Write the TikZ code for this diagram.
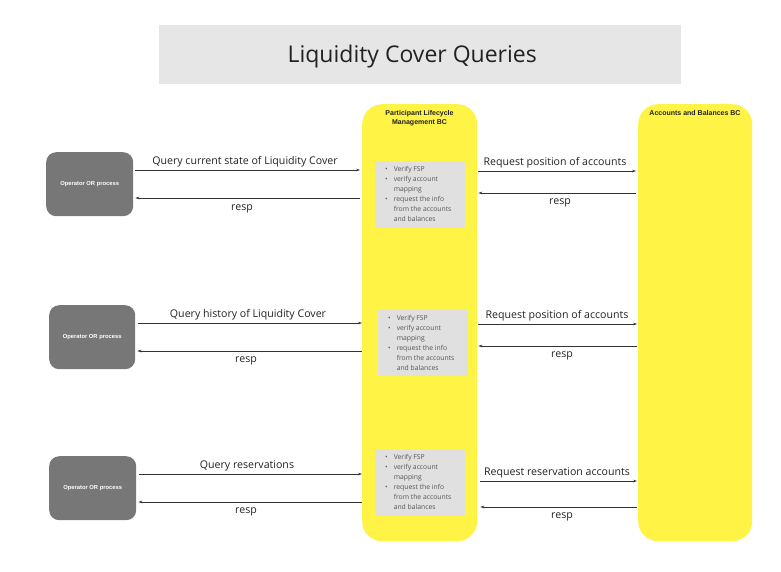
\documentclass[tikz,border=0pt]{standalone}
\usepackage{fontspec}
\setmainfont{Open Sans}
\newfontfamily\arialb{Liberation Sans}
\usetikzlibrary{arrows.meta}
\definecolor{ylw}{HTML}{FFF345}
\definecolor{ttlgray}{HTML}{E6E6E6}
\definecolor{boxgray}{HTML}{E0E0E0}
\definecolor{opgray}{HTML}{777777}
\definecolor{txt}{HTML}{222222}
\definecolor{bul}{HTML}{555555}
\definecolor{ln}{HTML}{333333}
\newcommand{\bulletlist}{%
\fontsize{6.8}{10}\selectfont\color{bul}%
\begin{tabular}{@{}l@{\hspace{6pt}}l@{}}
\textbullet & Verify FSP\\
\textbullet & verify account\\
 & mapping\\
\textbullet & request the info\\
 & from the accounts\\
 & and balances
\end{tabular}}
\tikzset{
  colbox/.style={fill=ylw, rounded corners=20pt, minimum width=115pt, minimum height=437pt, anchor=north west, inner sep=0pt},
  graybox/.style={fill=boxgray, minimum width=90pt, minimum height=67pt, anchor=north west, inner sep=0pt},
  opbox/.style={fill=opgray, rounded corners=10pt, minimum width=87pt, minimum height=64pt, anchor=north west, inner sep=0pt, text=white, font=\arialb\bfseries\fontsize{5.8}{7}\selectfont},
  arr/.style={draw=ln, line width=0.6pt, -{Stealth[length=4pt,width=2.6pt]}},
  lbl/.style={text=txt, font=\fontsize{10.6}{12}\selectfont, inner sep=0pt},
  coltitle/.style={text=txt, font=\arialb\bfseries\fontsize{7}{8.5}\selectfont, align=center, inner sep=0pt}
}
\begin{document}
\begin{tikzpicture}[x=1pt,y=-1pt]
\useasboundingbox (0,0) rectangle (781,571);
% title
\node[fill=ttlgray, minimum width=522pt, minimum height=59pt, anchor=north west, inner sep=0pt] (title) at (159,25) {};
\node[text=txt, font=\fontsize{23}{27}\selectfont, inner sep=0pt] (titletxt) at ([xshift=-8pt,yshift=-1.5pt]title.center) {Liquidity Cover Queries};
% columns
\node[colbox] (col1) at (362,104) {};
\node[colbox, minimum width=114pt] (col2) at (638,104) {};
\node[coltitle] (col1t) at (419.5,118) {Participant Lifecycle\\Management BC};
\node[coltitle] (col2t) at (695,113) {Accounts and Balances BC};
% gray boxes
\node[graybox] (g1) at (375,161) {};
\node[graybox, minimum height=66pt] (g2) at (378,310) {};
\node[graybox] (g3) at (375,449) {};
\node[anchor=west, inner sep=0pt] (g1t) at ([xshift=10pt]g1.west) {\bulletlist};
\node[anchor=west, inner sep=0pt] (g2t) at ([xshift=10pt]g2.west) {\bulletlist};
\node[anchor=west, inner sep=0pt] (g3t) at ([xshift=10pt]g3.west) {\bulletlist};
% operators
\node[opbox] (op1) at (46,152) {Operator OR process};
\node[opbox, minimum width=86pt] (op2) at (49,305) {Operator OR process};
\node[opbox] (op3) at (49,456) {Operator OR process};
% row 1
\draw[arr] ([xshift=2pt]op1.east |- 0,170) -- ([xshift=-2pt]col1.west |- 0,170);
\draw[arr] ([xshift=-2pt]col1.west |- 0,198) -- ([xshift=2pt]op1.east |- 0,198);
\node[lbl] (l1a) at (245,161.5) {Query current state of Liquidity Cover};
\node[lbl] (l1b) at (242,208.5) {resp};
\draw[arr] ([xshift=1pt]col1.east |- 0,171) -- ([xshift=-2pt]col2.west |- 0,171);
\draw[arr] ([xshift=-2pt]col2.west |- 0,193) -- ([xshift=1pt]col1.east |- 0,193);
\node[lbl] (r1a) at (555,162.5) {Request position of accounts};
\node[lbl] (r1b) at (560,202.5) {resp};
% row 2
\draw[arr] ([xshift=3pt]op2.east |- 0,323) -- (col1.west |- 0,323);
\draw[arr] (col1.west |- 0,351) -- ([xshift=2pt]op2.east |- 0,351);
\node[lbl] (l2a) at (248,314.5) {Query history of Liquidity Cover};
\node[lbl] (l2b) at (246,360.5) {resp};
\draw[arr] ([xshift=1pt]col1.east |- 0,324) -- ([xshift=-1pt]col2.west |- 0,324);
\draw[arr] ([xshift=-1pt]col2.west |- 0,346) -- ([xshift=1pt]col1.east |- 0,346);
\node[lbl] (r2a) at (557,315.5) {Request position of accounts};
\node[lbl] (r2b) at (562,355.5) {resp};
% row 3
\draw[arr] ([xshift=3pt]op3.east |- 0,474) -- (col1.west |- 0,474);
\draw[arr] (col1.west |- 0,502) -- ([xshift=2pt]op3.east |- 0,502);
\node[lbl] (l3a) at (247,465.5) {Query reservations};
\node[lbl] (l3b) at (246,511.5) {resp};
\draw[arr] ([xshift=3pt]col1.east |- 0,481) -- ([xshift=-1pt]col2.west |- 0,481);
\draw[arr] ([xshift=-1pt]col2.west |- 0,507) -- ([xshift=3pt]col1.east |- 0,507);
\node[lbl] (r3a) at (557,472.5) {Request reservation accounts};
\node[lbl] (r3b) at (562,516.5) {resp};
\end{tikzpicture}
\end{document}
